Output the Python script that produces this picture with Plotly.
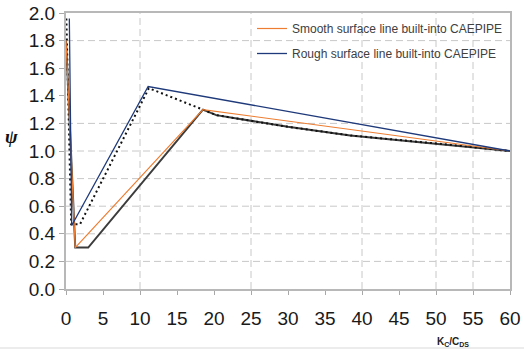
import plotly.graph_objects as go

# ---- data ----
smooth_x = [0, 1.25, 18.5, 60]
smooth_y = [1.8, 0.3, 1.3, 1.0]

rough_x = [0.45, 0.77, 11.1, 60]
rough_y = [1.96, 0.46, 1.467, 1.0]

dnv_smooth_x = [0, 1.25, 3.0, 18.5, 20.3, 30, 38.4, 50.5, 60]
dnv_smooth_y = [1.8, 0.3, 0.3, 1.3, 1.26, 1.175, 1.113, 1.052, 1.0]

dnv_rough_x = [0.05, 0.7, 1.9, 11.2, 18.5, 20.3, 30, 38.4, 50.5, 60]
dnv_rough_y = [1.96, 0.47, 0.47, 1.455, 1.3, 1.26, 1.175, 1.113, 1.052, 1.0]

legend_names = ["Smooth surface line built-into CAEPIPE",
                "Rough surface line built-into CAEPIPE"]

x_ticks = [0, 5, 10, 15, 20, 25, 30, 35, 40, 45, 50, 55, 60]
y_ticks = [0.0, 0.2, 0.4, 0.6, 0.8, 1.0, 1.2, 1.4, 1.6, 1.8, 2.0]
h_grid = [0.2, 0.4, 0.6, 0.8, 1.0, 1.2, 1.8]
v_grid = [10, 25, 40, 50, 55]

x_title = "K<sub>C</sub>/C<sub>DS</sub>"
y_title = "ψ"

# ---- figure ----
W, H = 524, 350
ML, MR, MT, MB = 66, 14, 13, 61
PW, PH = W - ML - MR, H - MT - MB

fig = go.Figure()

fig.add_trace(go.Scatter(x=dnv_smooth_x, y=dnv_smooth_y, mode="lines",
                         line=dict(color="#3c3c3c", width=2), showlegend=False))
fig.add_trace(go.Scatter(x=dnv_rough_x, y=dnv_rough_y, mode="lines",
                         line=dict(color="#111111", width=2, dash="2px,3px"),
                         showlegend=False))
fig.add_trace(go.Scatter(x=smooth_x, y=smooth_y, mode="lines", name=legend_names[0],
                         legendgroup="a",
                         line=dict(color="#ED7D31", width=1.2)))
fig.add_trace(go.Scatter(x=rough_x, y=rough_y, mode="lines", name=legend_names[1],
                         legendgroup="b",
                         line=dict(color="#1F3A7A", width=1.3)))

shapes = []
for v in h_grid:
    shapes.append(dict(type="line", xref="paper", yref="y", x0=0, x1=1, y0=v, y1=v,
                       line=dict(color="#c8c8c8", width=1, dash="7px,4px"), layer="below"))
for v in v_grid:
    shapes.append(dict(type="line", xref="x", yref="paper", x0=v, x1=v, y0=0, y1=1,
                       line=dict(color="#c8c8c8", width=1, dash="7px,4px"), layer="below"))
# outer chart frame bottom edge
yb = -(348 - (H - MB)) / PH
shapes.append(dict(type="line", xref="paper", yref="paper",
                   x0=-ML / PW, x1=(W - ML) / PW, y0=yb, y1=yb,
                   line=dict(color="#d9d9d9", width=1)))

axis_font = dict(family="Liberation Sans, Arial", size=19, color="#1a1a1a")

fig.update_layout(
    width=W, height=H, autosize=False,
    margin=dict(l=ML, r=MR, t=MT, b=MB, autoexpand=False),
    paper_bgcolor="white", plot_bgcolor="white",
    showlegend=True,
    legend=dict(x=(252 - ML) / PW, y=1 - (14 - MT) / PH, xanchor="left", yanchor="top",
                bgcolor="rgba(0,0,0,0)", font=dict(family="Liberation Sans, Arial", size=12,
                                                    color="#404040"),
                traceorder="grouped", tracegroupgap=6),
    xaxis=dict(range=[0, 60], tickvals=x_ticks, ticktext=[str(v) for v in x_ticks],
               showgrid=False, zeroline=False, showline=True, linecolor="#b8b8b8",
               linewidth=2, mirror=True, ticks="outside", ticklen=4, tickcolor="#a8a8a8",
               tickfont=axis_font, ticklabelstandoff=7, automargin=False),
    yaxis=dict(range=[0, 2.0], tickvals=y_ticks, ticktext=[f"{v:.1f}" for v in y_ticks],
               showgrid=False, zeroline=False, showline=True, linecolor="#b8b8b8",
               linewidth=2, mirror=True, ticks="outside", ticklen=5, tickcolor="#a8a8a8",
               tickfont=axis_font, automargin=False),
    shapes=shapes,
    annotations=[
        dict(text="<b><i>" + y_title + "</i></b>", xref="paper", yref="paper",
             x=(11 - ML) / PW, y=1 - (136 - MT) / PH, xanchor="center", yanchor="middle",
             showarrow=False,
             font=dict(family="Liberation Serif, Times New Roman", size=19, color="#111111")),
        dict(text="<b>" + x_title + "</b>", xref="paper", yref="paper", x=(453 - ML) / PW,
             y=-(342 - (H - MB)) / PH, xanchor="center", yanchor="middle", showarrow=False,
             font=dict(family="Liberation Sans, Arial", size=10, color="#222222")),
    ],
)

fig.write_html("out.html")
